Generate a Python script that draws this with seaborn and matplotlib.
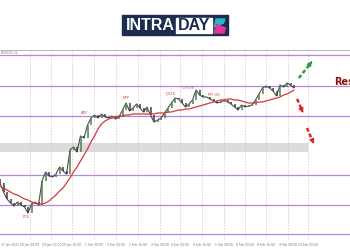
import numpy as np
import pandas as pd
import matplotlib
matplotlib.use("Agg")
import matplotlib.pyplot as plt
import seaborn as sns
from matplotlib.patches import Rectangle, Polygon

# ---------------- data ----------------
closes = [1.1684, 1.1666, 1.1652, 1.1644, 1.1638, 1.1646, 1.1640, 1.1636, 1.1624, 1.1642,
          1.1646, 1.1640, 1.1688, 1.1706, 1.1698, 1.1696, 1.1702, 1.1716, 1.1708, 1.1702,
          1.1750, 1.1756, 1.1746, 1.1778, 1.1774, 1.1800, 1.1814, 1.1820, 1.1814, 1.1822,
          1.1816, 1.1814, 1.1818, 1.1812, 1.1816, 1.1830, 1.1844, 1.1828, 1.1834, 1.1842,
          1.1834, 1.1826, 1.1836, 1.1820, 1.1806, 1.1810, 1.1814, 1.1824, 1.1834, 1.1844,
          1.1854, 1.1852, 1.1844, 1.1836, 1.1842, 1.1850, 1.1870, 1.1860, 1.1856, 1.1856,
          1.1852, 1.1848, 1.1844, 1.1846, 1.1850, 1.1846, 1.1842, 1.1836, 1.1830, 1.1840,
          1.1836, 1.1838, 1.1840, 1.1850, 1.1862, 1.1874, 1.1878, 1.1874, 1.1868, 1.1858,
          1.1880, 1.1876, 1.1884, 1.1880, 1.1874]
first_open = 1.1692

moving_avg = [1.1678, 1.1674, 1.1670, 1.1666, 1.1662, 1.1660, 1.1656, 1.1652, 1.1650, 1.1646,
              1.1644, 1.1642, 1.1642, 1.1644, 1.1648, 1.1654, 1.1660, 1.1668, 1.1674, 1.1684,
              1.1694, 1.1706, 1.1716, 1.1728, 1.1740, 1.1752, 1.1766, 1.1778, 1.1792, 1.1802,
              1.1808, 1.1812, 1.1814, 1.1816, 1.1818, 1.1818, 1.1820, 1.1820, 1.1822, 1.1822,
              1.1822, 1.1822, 1.1822, 1.1822, 1.1822, 1.1824, 1.1824, 1.1824, 1.1826, 1.1826,
              1.1828, 1.1830, 1.1830, 1.1832, 1.1832, 1.1834, 1.1836, 1.1838, 1.1840, 1.1842,
              1.1844, 1.1846, 1.1848, 1.1850, 1.1850, 1.1852, 1.1852, 1.1850, 1.1850, 1.1848,
              1.1846, 1.1844, 1.1844, 1.1844, 1.1846, 1.1846, 1.1848, 1.1850, 1.1852, 1.1854,
              1.1856, 1.1860, 1.1862, 1.1866, 1.1870]

levels = [1.1940, 1.1879, 1.1819, 1.1701, 1.1641, 1.1582]
zone_low, zone_high = 1.1746, 1.1764

grid_pos = [8.5, 14.66, 20.6, 26.9, 33.1, 39.4, 45.6, 51.4, 57.7, 64.0, 70.0, 76.0, 82.2, 88.0]
tick_labels = ["27 Jan 2021", "28 Jan 08:00", "29 Jan 00:00", "29 Jan 16:00", "1 Feb 08:00",
               "2 Feb 00:00", "2 Feb 16:00", "3 Feb 08:00", "4 Feb 00:00", "4 Feb 16:00",
               "5 Feb 08:00", "8 Feb 00:00", "8 Feb 16:00", "9 Feb 08:00", "10 Feb 00:00"]
tick_pos = [0.2] + grid_pos

events = ["PCE", "ADP", "NFP", "JOLTS", "CPI US", "PPI US"]
event_x = [7.4, 24.3, 36.0, 48.6, 53.7, 61.1]
event_y = [1.1616, 1.1824, 1.1854, 1.1862, 1.1874, 1.1860]

# ---------------- figure ----------------
sns.set_style("white")
plt.rcParams['font.family'] = ['DejaVu Sans']

fig = plt.figure(figsize=(3.5, 2.5), dpi=100)
fig.patch.set_facecolor("white")

# logo
lax = fig.add_axes([0, 0, 1, 1], zorder=5)
lax.set_xlim(0, 350); lax.set_ylim(250, 0); lax.axis("off")
lax.add_patch(Rectangle((122.3, 15.3), 105.4, 20, color="#1d2b4f"))
lax.add_patch(Rectangle((176, 18), 36, 14.5, color="white"))
lax.text(150.5, 25.6, "INTRA", color="white", fontsize=11.5, fontweight="bold",
         ha="center", va="center", family="Liberation Sans")
lax.text(194, 25.6, "DAY", color="#1d2b4f", fontsize=11.5, fontweight="bold",
         ha="center", va="center", family="Liberation Sans")
lax.add_patch(Polygon([[216, 19], [225, 19], [223.5, 23], [214.5, 27]], color="#2bb5c9"))
lax.add_patch(Polygon([[214.5, 33], [224, 33], [225.5, 28], [216.5, 24.5]], color="#e0359a"))

ax = fig.add_axes([0, 0.04, 1, 0.76])
ax.set_xlim(0, 100)
ax.set_ylim(1.1570, 1.1950)

idx = np.arange(len(closes))
opens = [first_open] + closes[:-1]
df = pd.DataFrame({"i": idx, "open": opens, "close": closes, "ma": moving_avg})

# zone & levels
ax.fill_between([0, 88], zone_low, zone_high, color="#dcdcdc", zorder=0, lw=0)
for lv in levels:
    ax.axhline(lv, color="#b487d8", lw=0.9, zorder=1)
ax.vlines(grid_pos, 1.1570, 1.1950, color="#c4c4c4", lw=0.5,
          linestyles=(0, (2, 2)), zorder=0.5)

# candles
up = df["close"] >= df["open"]
ax.plot(df["i"], df["close"], color="#4c4c4c", lw=0.8, zorder=2)
ax.vlines(df["i"][up], df["open"][up], df["close"][up], color="#4f7f4f", lw=1.1, zorder=3)
ax.vlines(df["i"][~up], df["open"][~up], df["close"][~up], color="#3e3e3e", lw=1.1, zorder=3)

# moving average
sns.lineplot(data=df, x="i", y="ma", color="#d8373a", lw=0.9, ax=ax, zorder=4)

# event labels
for t, x, y in zip(events, event_x, event_y):
    ax.text(x, y, t, color="#d04848", fontsize=2.6, ha="center", va="center")

# arrows
def dashed_arrow(x0, y0, x1, y1, c):
    ax.plot([x0, x0 + (x1 - x0) * 0.8], [y0, y0 + (y1 - y0) * 0.8], color=c,
            lw=1.8, linestyle=(0, (1.5, 1.0)), solid_capstyle="butt", zorder=6)
    ax.annotate("", xy=(x1, y1), xytext=(x0 + (x1 - x0) * 0.7, y0 + (y1 - y0) * 0.7),
                arrowprops=dict(arrowstyle="-|>", color=c, lw=1.2, mutation_scale=6),
                zorder=6)

dashed_arrow(85.4, 1.1894, 89.7, 1.1932, "#2e9a3a")
dashed_arrow(84.9, 1.1852, 86.6, 1.1824, "#e0202a")
dashed_arrow(87.7, 1.1794, 89.7, 1.1762, "#e0202a")

ax.text(95.6, 1.1886, "Resistance", color="#8b1010", fontsize=7, fontweight="bold",
        ha="left", va="center")
ax.text(0.3, 1.1949, "EURUSD,H4", color="#888888", fontsize=2.2, ha="left", va="top")

ax.set_xticks(tick_pos)
ax.set_xticklabels(tick_labels, fontsize=2.2, color="#777777")
ax.get_xticklabels()[0].set_horizontalalignment("left")
ax.tick_params(axis="x", length=0, pad=2.5)
ax.set_yticks([])
ax.set_xlabel(""); ax.set_ylabel("")
for s in ["left", "right", "bottom"]:
    ax.spines[s].set_visible(False)
ax.spines["top"].set_color("#aaaaaa")
ax.spines["top"].set_linewidth(0.6)
ax.set_facecolor("white")

fig.savefig("out.png", dpi=100)
